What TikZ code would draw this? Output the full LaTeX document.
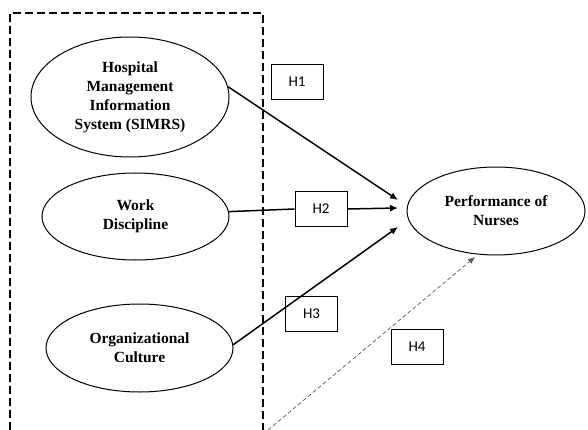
\documentclass[tikz,border=0pt]{standalone}
\usepackage{fontspec}
\setmainfont{Liberation Serif}
\newfontfamily\hfont{Carlito}
\usetikzlibrary{shapes.geometric,arrows.meta}

\begin{document}
\begin{tikzpicture}[x=1pt, y=-1pt,
    var/.style={draw, ellipse, line width=1pt, inner sep=0pt, align=center,
        font=\fontsize{15.5}{19}\selectfont\bfseries},
    hyp/.style={draw, line width=1pt, minimum width=52pt, minimum height=35pt,
        inner sep=0pt, font=\hfont\fontsize{15}{17}\selectfont},
    link/.style={line width=1.5pt, -{Latex[length=8pt,width=7pt]}},
    weak/.style={gray!70!black, line width=0.7pt, dash pattern=on 4pt off 2.5pt,
        -{Latex[length=7pt,width=6pt]}}]
    \useasboundingbox (0,0) rectangle (588,430);
    \draw[line width=1.1pt, dash pattern=on 8pt off 4pt] (10,430) -- (10,13) -- (263,13) -- (263,430);

    \node[var, minimum width=198pt, minimum height=120pt] (simrs) at (130,97) {Hospital\\Management\\Information\\System (SIMRS)};
    \node[var, minimum width=187pt, minimum height=87pt] (work) at (135.5,216.5) {Work\\Discipline};
    \node[var, minimum width=187pt, minimum height=88pt] (org) at (139.5,348) {Organizational\\Culture};
    \node[var, minimum width=178pt, minimum height=88pt] (perf) at (496,211) {Performance of\\Nurses};

    \node[hyp] (h1) at (297,82) {H1};
    \node[hyp] (h2) at (321,209) {H2};
    \node[hyp] (h3) at (311.5,314) {H3};
    \node[hyp] (h4) at (417,346.5) {H4};

    \coordinate (t1) at (398,200);
    \coordinate (t2) at (398,208);
    \coordinate (t3) at (398,227);
    \coordinate (t4) at (475,257);
    \coordinate (s4) at (268,430);

    \draw[link] (simrs.6) -- (t1);
    \draw[line width=1.5pt] (work.3) -- (h2.west);
    \draw[link] (h2.east) -- (t2);
    \draw[link] (org.2) -- (t3);
    \draw[weak] (s4) -- (t4); % dashed
\end{tikzpicture}
\end{document}
